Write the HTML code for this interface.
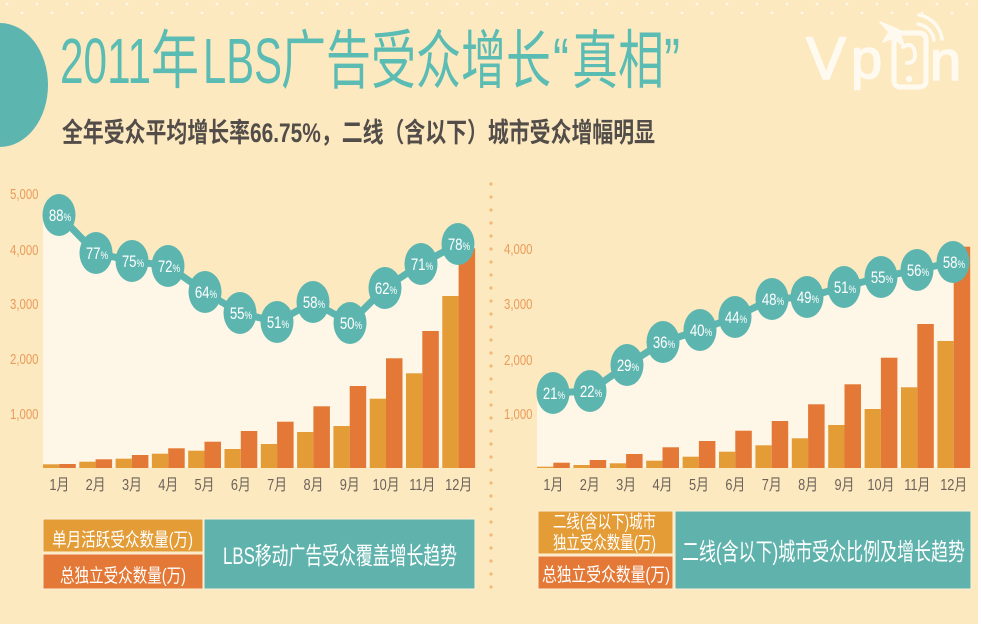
<!DOCTYPE html>
<html>
<head>
<meta charset="utf-8">
<style>
html,body{margin:0;padding:0;background:#fde9c0;}
svg{display:block;}
text{font-family:"Liberation Sans","Noto Sans CJK SC",sans-serif;}
</style>
</head>
<body>
<svg width="981" height="627" viewBox="0 0 981 627" xmlns="http://www.w3.org/2000/svg">
<rect x="0" y="0" width="981" height="627" fill="#fde9c0"/>

<!-- top decorative dots -->
<g fill="#ffffff" opacity="0.75">
<circle cx="7" cy="4" r="1.3"/><circle cx="22" cy="13" r="1.3"/><circle cx="37" cy="4" r="1.3"/><circle cx="52" cy="13" r="1.3"/><circle cx="67" cy="4" r="1.3"/><circle cx="82" cy="13" r="1.3"/><circle cx="97" cy="4" r="1.3"/><circle cx="112" cy="13" r="1.3"/><circle cx="127" cy="4" r="1.3"/><circle cx="142" cy="13" r="1.3"/><circle cx="157" cy="4" r="1.3"/><circle cx="172" cy="13" r="1.3"/><circle cx="187" cy="4" r="1.3"/><circle cx="202" cy="13" r="1.3"/><circle cx="217" cy="4" r="1.3"/><circle cx="232" cy="13" r="1.3"/><circle cx="247" cy="4" r="1.3"/><circle cx="262" cy="13" r="1.3"/><circle cx="277" cy="4" r="1.3"/><circle cx="292" cy="13" r="1.3"/><circle cx="307" cy="4" r="1.3"/><circle cx="322" cy="13" r="1.3"/><circle cx="337" cy="4" r="1.3"/><circle cx="352" cy="13" r="1.3"/><circle cx="367" cy="4" r="1.3"/><circle cx="382" cy="13" r="1.3"/><circle cx="397" cy="4" r="1.3"/><circle cx="412" cy="13" r="1.3"/><circle cx="427" cy="4" r="1.3"/><circle cx="442" cy="13" r="1.3"/><circle cx="457" cy="4" r="1.3"/><circle cx="472" cy="13" r="1.3"/><circle cx="487" cy="4" r="1.3"/><circle cx="502" cy="13" r="1.3"/><circle cx="517" cy="4" r="1.3"/><circle cx="532" cy="13" r="1.3"/><circle cx="547" cy="4" r="1.3"/><circle cx="562" cy="13" r="1.3"/><circle cx="577" cy="4" r="1.3"/><circle cx="592" cy="13" r="1.3"/><circle cx="607" cy="4" r="1.3"/><circle cx="622" cy="13" r="1.3"/><circle cx="637" cy="4" r="1.3"/><circle cx="652" cy="13" r="1.3"/><circle cx="667" cy="4" r="1.3"/><circle cx="682" cy="13" r="1.3"/><circle cx="697" cy="4" r="1.3"/><circle cx="712" cy="13" r="1.3"/><circle cx="727" cy="4" r="1.3"/><circle cx="742" cy="13" r="1.3"/><circle cx="757" cy="4" r="1.3"/><circle cx="772" cy="13" r="1.3"/><circle cx="787" cy="4" r="1.3"/><circle cx="802" cy="13" r="1.3"/><circle cx="817" cy="4" r="1.3"/><circle cx="832" cy="13" r="1.3"/><circle cx="847" cy="4" r="1.3"/><circle cx="862" cy="13" r="1.3"/><circle cx="877" cy="4" r="1.3"/><circle cx="892" cy="13" r="1.3"/><circle cx="907" cy="4" r="1.3"/><circle cx="922" cy="13" r="1.3"/><circle cx="937" cy="4" r="1.3"/><circle cx="952" cy="13" r="1.3"/><circle cx="967" cy="4" r="1.3"/>
</g>

<!-- left teal half ellipse -->
<ellipse cx="0" cy="85" rx="48" ry="62" fill="#5db5af"/>

<!-- title -->
<g fill="#5bbcb4" font-size="64">
<text x="60" y="83" textLength="91" lengthAdjust="spacingAndGlyphs">2011</text>
<text x="151" y="83" textLength="48" lengthAdjust="spacingAndGlyphs">年</text>
<text x="203" y="83" textLength="79" lengthAdjust="spacingAndGlyphs">LBS</text>
<text x="281" y="83" textLength="270" lengthAdjust="spacingAndGlyphs">广告受众增长</text>
<text x="553" y="83" textLength="16" lengthAdjust="spacingAndGlyphs">“</text>
<text x="572" y="83" textLength="92" lengthAdjust="spacingAndGlyphs">真相</text>
<text x="664" y="83" textLength="16" lengthAdjust="spacingAndGlyphs">”</text>
</g>
<text x="62" y="142" font-size="27" font-weight="bold" fill="#524d49" textLength="593" lengthAdjust="spacingAndGlyphs">全年受众平均增长率66.75%，二线（含以下）城市受众增幅明显</text>

<!-- Vpon logo -->
<g fill="#fffaf0" stroke="#fffaf0" stroke-width="1.6" stroke-linejoin="round">
<text x="806" y="79" font-size="60">V</text>
<text x="851" y="78" font-size="56">p</text>
<text x="930" y="80" font-size="56">n</text>
<polygon points="880,22 899,30 904,46 893,38 883,42 889,32"/>
<circle cx="909" cy="79" r="2.4"/>
</g>
<g fill="none" stroke="#fffaf0" stroke-linecap="round">
<rect x="894" y="33" width="32" height="54" rx="6" stroke-width="5"/>
<path d="M903 47 q10 -6 12 6 q1 10 -8 10" stroke-width="4"/>
<path d="M917 33 A11 11 0 0 1 927 42" stroke-width="3.5"/>
<path d="M918 24 A19 19 0 0 1 934 40" stroke-width="3.5"/>
<path d="M919 15 A28 28 0 0 1 942 39" stroke-width="3.5"/>
</g>

<!-- dotted separator -->
<g fill="#f2b877">
<circle cx="491" cy="184" r="1.6"/><circle cx="491" cy="197" r="1.6"/><circle cx="491" cy="210" r="1.6"/><circle cx="491" cy="223" r="1.6"/><circle cx="491" cy="236" r="1.6"/><circle cx="491" cy="249" r="1.6"/><circle cx="491" cy="262" r="1.6"/><circle cx="491" cy="275" r="1.6"/><circle cx="491" cy="288" r="1.6"/><circle cx="491" cy="301" r="1.6"/><circle cx="491" cy="314" r="1.6"/><circle cx="491" cy="327" r="1.6"/><circle cx="491" cy="340" r="1.6"/><circle cx="491" cy="353" r="1.6"/><circle cx="491" cy="366" r="1.6"/><circle cx="491" cy="379" r="1.6"/><circle cx="491" cy="392" r="1.6"/><circle cx="491" cy="405" r="1.6"/><circle cx="491" cy="418" r="1.6"/><circle cx="491" cy="431" r="1.6"/><circle cx="491" cy="444" r="1.6"/><circle cx="491" cy="457" r="1.6"/><circle cx="491" cy="470" r="1.6"/><circle cx="491" cy="483" r="1.6"/><circle cx="491" cy="496" r="1.6"/><circle cx="491" cy="509" r="1.6"/><circle cx="491" cy="522" r="1.6"/><circle cx="491" cy="535" r="1.6"/><circle cx="491" cy="548" r="1.6"/><circle cx="491" cy="561" r="1.6"/><circle cx="491" cy="574" r="1.6"/><circle cx="491" cy="587" r="1.6"/>
</g>

<!-- ============ LEFT CHART ============ -->
<polygon fill="#fef6e6" points="43,215 59,215 96,253 132,261 168,266 205,292 240,313 277,322 313,302 350,323 385,288 421,264 458,244 475,244 475,468 43,468"/>

<g font-size="15" fill="#e99c5a">
<text transform="translate(10,199) scale(0.76,1)">5,000</text>
<text transform="translate(10,255) scale(0.76,1)">4,000</text>
<text transform="translate(10,309) scale(0.76,1)">3,000</text>
<text transform="translate(10,364) scale(0.76,1)">2,000</text>
<text transform="translate(10,419) scale(0.76,1)">1,000</text>
</g>

<!-- bars left -->
<g fill="#e49c37">
<rect x="43" y="464.3" width="16.3" height="3.7"/>
<rect x="79.3" y="461.7" width="16.3" height="6.3"/>
<rect x="115.6" y="458.7" width="16.3" height="9.3"/>
<rect x="151.9" y="453.7" width="16.3" height="14.3"/>
<rect x="188.2" y="450.7" width="16.3" height="17.3"/>
<rect x="224.5" y="449" width="16.3" height="19"/>
<rect x="260.8" y="444" width="16.3" height="24"/>
<rect x="297.1" y="432" width="16.3" height="36"/>
<rect x="333.4" y="426" width="16.3" height="42"/>
<rect x="369.7" y="398.7" width="16.3" height="69.3"/>
<rect x="406" y="373.3" width="16.3" height="94.7"/>
<rect x="442.3" y="296" width="16.3" height="172"/>
</g>
<g fill="#e47836">
<rect x="59.3" y="464" width="16.5" height="4"/>
<rect x="95.6" y="459.3" width="16.5" height="8.7"/>
<rect x="131.9" y="455" width="16.5" height="13"/>
<rect x="168.2" y="448.3" width="16.5" height="19.7"/>
<rect x="204.5" y="441.7" width="16.5" height="26.3"/>
<rect x="240.8" y="431" width="16.5" height="37"/>
<rect x="277.1" y="421.7" width="16.5" height="46.3"/>
<rect x="313.4" y="406.3" width="16.5" height="61.7"/>
<rect x="349.7" y="386" width="16.5" height="82"/>
<rect x="386" y="358.3" width="16.5" height="109.7"/>
<rect x="422.3" y="331" width="16.5" height="137"/>
<rect x="458.6" y="248.3" width="16.5" height="219.7"/>
</g>

<polyline fill="none" stroke="#5db5af" stroke-width="7" stroke-linejoin="round" points="59,215 96,253 132,261 168,266 205,292 240,313 277,322 313,302 350,323 385,288 421,264 458,244"/>
<g fill="#5db5af">
<ellipse cx="59" cy="215" rx="16.5" ry="21"/>
<ellipse cx="96" cy="253" rx="16.5" ry="21"/>
<ellipse cx="132" cy="261" rx="16.5" ry="21"/>
<ellipse cx="168" cy="266" rx="16.5" ry="21"/>
<ellipse cx="205" cy="292" rx="16.5" ry="21"/>
<ellipse cx="240" cy="313" rx="16.5" ry="21"/>
<ellipse cx="277" cy="322" rx="16.5" ry="21"/>
<ellipse cx="313" cy="302" rx="16.5" ry="21"/>
<ellipse cx="350" cy="323" rx="16.5" ry="21"/>
<ellipse cx="385" cy="288" rx="16.5" ry="21"/>
<ellipse cx="421" cy="264" rx="16.5" ry="21"/>
<ellipse cx="458" cy="244" rx="16.5" ry="21"/>
</g>
<g fill="#ffffff" font-size="17" text-anchor="middle">
<text transform="translate(60,221) scale(0.78,1)">88<tspan font-size="11">%</tspan></text>
<text transform="translate(97,259) scale(0.78,1)">77<tspan font-size="11">%</tspan></text>
<text transform="translate(133,267) scale(0.78,1)">75<tspan font-size="11">%</tspan></text>
<text transform="translate(169,272) scale(0.78,1)">72<tspan font-size="11">%</tspan></text>
<text transform="translate(206,298) scale(0.78,1)">64<tspan font-size="11">%</tspan></text>
<text transform="translate(241,319) scale(0.78,1)">55<tspan font-size="11">%</tspan></text>
<text transform="translate(278,328) scale(0.78,1)">51<tspan font-size="11">%</tspan></text>
<text transform="translate(314,308) scale(0.78,1)">58<tspan font-size="11">%</tspan></text>
<text transform="translate(351,329) scale(0.78,1)">50<tspan font-size="11">%</tspan></text>
<text transform="translate(386,294) scale(0.78,1)">62<tspan font-size="11">%</tspan></text>
<text transform="translate(422,270) scale(0.78,1)">71<tspan font-size="11">%</tspan></text>
<text transform="translate(459,250) scale(0.78,1)">78<tspan font-size="11">%</tspan></text>
</g>

<g fill="#6c6259" font-size="16" text-anchor="middle">
<text transform="translate(59.3,490) scale(0.8,1)">1月</text>
<text transform="translate(95.6,490) scale(0.8,1)">2月</text>
<text transform="translate(131.9,490) scale(0.8,1)">3月</text>
<text transform="translate(168.2,490) scale(0.8,1)">4月</text>
<text transform="translate(204.5,490) scale(0.8,1)">5月</text>
<text transform="translate(240.8,490) scale(0.8,1)">6月</text>
<text transform="translate(277.1,490) scale(0.8,1)">7月</text>
<text transform="translate(313.4,490) scale(0.8,1)">8月</text>
<text transform="translate(349.7,490) scale(0.8,1)">9月</text>
<text transform="translate(386,490) scale(0.8,1)">10月</text>
<text transform="translate(422.3,490) scale(0.8,1)">11月</text>
<text transform="translate(458.6,490) scale(0.8,1)">12月</text>
</g>

<!-- left legend -->
<g stroke="#fdf0d6" stroke-width="1">
<rect x="43" y="519" width="160" height="33" fill="#e49c37"/>
<rect x="43" y="554" width="160" height="35" fill="#e47836"/>
<rect x="204" y="519" width="271" height="70" fill="#60b3ad"/>
</g>
<g fill="#ffffff">
<text x="52" y="546" font-size="19" textLength="141" lengthAdjust="spacingAndGlyphs">单月活跃受众数量(万)</text>
<text x="60" y="582" font-size="19" textLength="126" lengthAdjust="spacingAndGlyphs">总独立受众数量(万)</text>
<text x="223" y="564" font-size="24" textLength="234" lengthAdjust="spacingAndGlyphs">LBS移动广告受众覆盖增长趋势</text>
</g>

<!-- ============ RIGHT CHART ============ -->
<polygon fill="#fef6e6" points="537,393 553,393 590,391 627,365 663,342 700,330 735,317 772,299 807,297 844,287 881,277 917,270 953,262 969,262 969,468 537,468"/>

<g font-size="15" fill="#e99c5a">
<text transform="translate(504,254) scale(0.76,1)">4,000</text>
<text transform="translate(504,309) scale(0.76,1)">3,000</text>
<text transform="translate(504,365) scale(0.76,1)">2,000</text>
<text transform="translate(504,419) scale(0.76,1)">1,000</text>
</g>

<g fill="#e49c37">
<rect x="537" y="466.7" width="16.3" height="1.3"/>
<rect x="573.4" y="465" width="16.3" height="3"/>
<rect x="609.8" y="463.3" width="16.3" height="4.7"/>
<rect x="646.2" y="460.7" width="16.3" height="7.3"/>
<rect x="682.6" y="456.7" width="16.3" height="11.3"/>
<rect x="719" y="451.7" width="16.3" height="16.3"/>
<rect x="755.4" y="445.3" width="16.3" height="22.7"/>
<rect x="791.8" y="438.3" width="16.3" height="29.7"/>
<rect x="828.2" y="425" width="16.3" height="43"/>
<rect x="864.6" y="409" width="16.3" height="59"/>
<rect x="901" y="387.3" width="16.3" height="80.7"/>
<rect x="937.4" y="341" width="16.3" height="127"/>
</g>
<g fill="#e47836">
<rect x="553.3" y="462.7" width="16.5" height="5.3"/>
<rect x="589.7" y="460" width="16.5" height="8"/>
<rect x="626.1" y="454" width="16.5" height="14"/>
<rect x="662.5" y="447.3" width="16.5" height="20.7"/>
<rect x="698.9" y="441" width="16.5" height="27"/>
<rect x="735.3" y="430.7" width="16.5" height="37.3"/>
<rect x="771.7" y="421" width="16.5" height="47"/>
<rect x="808.1" y="404.3" width="16.5" height="63.7"/>
<rect x="844.5" y="384.3" width="16.5" height="83.7"/>
<rect x="880.9" y="357.7" width="16.5" height="110.3"/>
<rect x="917.3" y="324" width="16.5" height="144"/>
<rect x="953.7" y="246.7" width="16.5" height="221.3"/>
</g>

<polyline fill="none" stroke="#5db5af" stroke-width="7" stroke-linejoin="round" points="553,393 590,391 627,365 663,342 700,330 735,317 772,299 807,297 844,287 881,277 917,270 953,262"/>
<g fill="#5db5af">
<ellipse cx="553" cy="393" rx="16.5" ry="21"/>
<ellipse cx="590" cy="391" rx="16.5" ry="21"/>
<ellipse cx="627" cy="365" rx="16.5" ry="21"/>
<ellipse cx="663" cy="342" rx="16.5" ry="21"/>
<ellipse cx="700" cy="330" rx="16.5" ry="21"/>
<ellipse cx="735" cy="317" rx="16.5" ry="21"/>
<ellipse cx="772" cy="299" rx="16.5" ry="21"/>
<ellipse cx="807" cy="297" rx="16.5" ry="21"/>
<ellipse cx="844" cy="287" rx="16.5" ry="21"/>
<ellipse cx="881" cy="277" rx="16.5" ry="21"/>
<ellipse cx="917" cy="270" rx="16.5" ry="21"/>
<ellipse cx="953" cy="262" rx="16.5" ry="21"/>
</g>
<g fill="#ffffff" font-size="17" text-anchor="middle">
<text transform="translate(554,399) scale(0.78,1)">21<tspan font-size="11">%</tspan></text>
<text transform="translate(591,397) scale(0.78,1)">22<tspan font-size="11">%</tspan></text>
<text transform="translate(628,371) scale(0.78,1)">29<tspan font-size="11">%</tspan></text>
<text transform="translate(664,348) scale(0.78,1)">36<tspan font-size="11">%</tspan></text>
<text transform="translate(701,336) scale(0.78,1)">40<tspan font-size="11">%</tspan></text>
<text transform="translate(736,323) scale(0.78,1)">44<tspan font-size="11">%</tspan></text>
<text transform="translate(773,305) scale(0.78,1)">48<tspan font-size="11">%</tspan></text>
<text transform="translate(808,303) scale(0.78,1)">49<tspan font-size="11">%</tspan></text>
<text transform="translate(845,293) scale(0.78,1)">51<tspan font-size="11">%</tspan></text>
<text transform="translate(882,283) scale(0.78,1)">55<tspan font-size="11">%</tspan></text>
<text transform="translate(918,276) scale(0.78,1)">56<tspan font-size="11">%</tspan></text>
<text transform="translate(954,268) scale(0.78,1)">58<tspan font-size="11">%</tspan></text>
</g>

<g fill="#6c6259" font-size="16" text-anchor="middle">
<text transform="translate(553.3,490) scale(0.8,1)">1月</text>
<text transform="translate(589.7,490) scale(0.8,1)">2月</text>
<text transform="translate(626.1,490) scale(0.8,1)">3月</text>
<text transform="translate(662.5,490) scale(0.8,1)">4月</text>
<text transform="translate(698.9,490) scale(0.8,1)">5月</text>
<text transform="translate(735.3,490) scale(0.8,1)">6月</text>
<text transform="translate(771.7,490) scale(0.8,1)">7月</text>
<text transform="translate(808.1,490) scale(0.8,1)">8月</text>
<text transform="translate(844.5,490) scale(0.8,1)">9月</text>
<text transform="translate(880.9,490) scale(0.8,1)">10月</text>
<text transform="translate(917.3,490) scale(0.8,1)">11月</text>
<text transform="translate(953.7,490) scale(0.8,1)">12月</text>
</g>

<!-- right legend -->
<g stroke="#fdf0d6" stroke-width="1">
<rect x="538" y="511" width="135" height="43" fill="#e49c37"/>
<rect x="538" y="556" width="135" height="33" fill="#e47836"/>
<rect x="675" y="511" width="296" height="78" fill="#60b3ad"/>
</g>
<g fill="#ffffff">
<text x="553" y="528" font-size="18" textLength="103" lengthAdjust="spacingAndGlyphs">二线(含以下)城市</text>
<text x="553" y="549" font-size="18" textLength="103" lengthAdjust="spacingAndGlyphs">独立受众数量(万)</text>
<text x="542" y="581" font-size="19" textLength="128" lengthAdjust="spacingAndGlyphs">总独立受众数量(万)</text>
<text x="682" y="560" font-size="24" textLength="283" lengthAdjust="spacingAndGlyphs">二线(含以下)城市受众比例及增长趋势</text>
</g>

<!-- white frame edges -->
<rect x="978" y="0" width="3" height="627" fill="#ffffff"/>
<rect x="0" y="624" width="981" height="3" fill="#ffffff"/>
</svg>
</body>
</html>
